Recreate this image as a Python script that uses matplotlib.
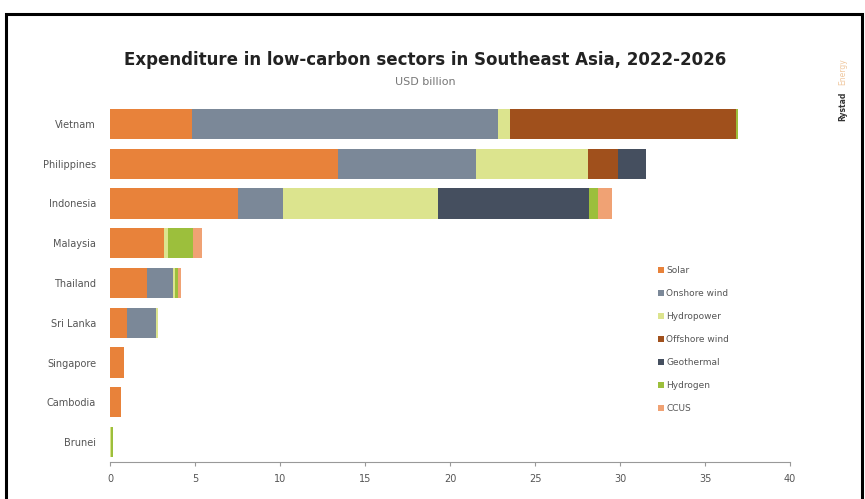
import matplotlib.pyplot as plt
import numpy as np
from matplotlib.patches import Rectangle

countries = ["Vietnam", "Philippines", "Indonesia", "Malaysia", "Thailand",
             "Sri Lanka", "Singapore", "Cambodia", "Brunei"]
sectors = ["Solar", "Onshore wind", "Hydropower", "Offshore wind",
           "Geothermal", "Hydrogen", "CCUS"]
solar      = [4.8, 13.4, 7.5, 3.2, 2.2, 1.0, 0.8, 0.65, 0.0]
onshore    = [18.0, 8.1, 2.7, 0.0, 1.5, 1.7, 0.0, 0.0, 0.0]
hydro      = [0.7, 6.6, 9.1, 0.2, 0.15, 0.15, 0.0, 0.0, 0.05]
offshore   = [13.3, 1.8, 0.0, 0.0, 0.0, 0.0, 0.0, 0.0, 0.0]
geothermal = [0.0, 1.6, 8.9, 0.0, 0.0, 0.0, 0.0, 0.0, 0.0]
hydrogen   = [0.15, 0.0, 0.5, 1.5, 0.15, 0.0, 0.0, 0.0, 0.15]
ccus       = [0.0, 0.0, 0.8, 0.5, 0.15, 0.0, 0.0, 0.0, 0.0]
xticks = [0, 5, 10, 15, 20, 25, 30, 35, 40]

series = [solar, onshore, hydro, offshore, geothermal, hydrogen, ccus]
colors = ["#E8823A", "#7B8898", "#DCE48E", "#A0501C", "#454F5F", "#9CBF3C", "#F0A274"]

W, H = 865, 499
fig = plt.figure(figsize=(W / 100, H / 100), dpi=100)
ax = fig.add_axes([110 / W, 1 - 462 / H, 680 / W, (462 - 104) / H])

y = np.arange(len(countries))
left = np.zeros(len(countries))
handles = []
for name, vals, c in zip(sectors, series, colors):
    vals = np.array(vals)
    b = ax.barh(y, vals, left=left, height=0.76, color=c, label=name, linewidth=0)
    handles.append(b)
    left += vals

ax.set_ylim(len(countries) - 0.5, -0.5)
ax.set_xlim(0, 40)
ax.set_xticks(xticks)
ax.set_xticklabels([str(t) for t in xticks], fontsize=7, color="#555555")
ax.set_yticks(y)
ax.set_yticklabels(countries, fontsize=7, color="#555555")
ax.tick_params(axis="y", length=0, pad=10)
ax.tick_params(axis="x", length=3, color="#999999", pad=6)
for s in ["top", "right", "left"]:
    ax.spines[s].set_visible(False)
ax.spines["bottom"].set_color("#999999")
ax.spines["bottom"].set_linewidth(0.8)

leg = ax.legend(handles=handles, labels=sectors, loc="upper left",
                bbox_to_anchor=((650 - 110) / 680, (462 - 258) / 358),
                frameon=False, fontsize=6.5, handlelength=0.6, handleheight=0.6,
                handletextpad=0.3, labelspacing=1.55, labelcolor="#555555")

fig.text(425 / W, 1 - 60 / H, "Expenditure in low-carbon sectors in Southeast Asia, 2022-2026",
         ha="center", va="center", fontsize=12, fontweight="bold", color="#222222")
fig.text(425 / W, 1 - 82 / H, "USD billion", ha="center", va="center",
         fontsize=8, color="#777777")
fig.text(843 / W, 1 - 106 / H, "Rystad", rotation=90, ha="center", va="center",
         fontsize=5.5, color="#333333", fontweight="bold")
fig.text(843 / W, 1 - 72 / H, "Energy", rotation=90, ha="center", va="center",
         fontsize=5.5, color="#F0C8A0")

fig.patches.append(Rectangle((6 / W, -0.1), (862 - 6) / W, (1 - 14 / H) + 0.1,
                             transform=fig.transFigure, fill=False,
                             edgecolor="black", linewidth=2.2))

fig.savefig("out.png", dpi=100)
